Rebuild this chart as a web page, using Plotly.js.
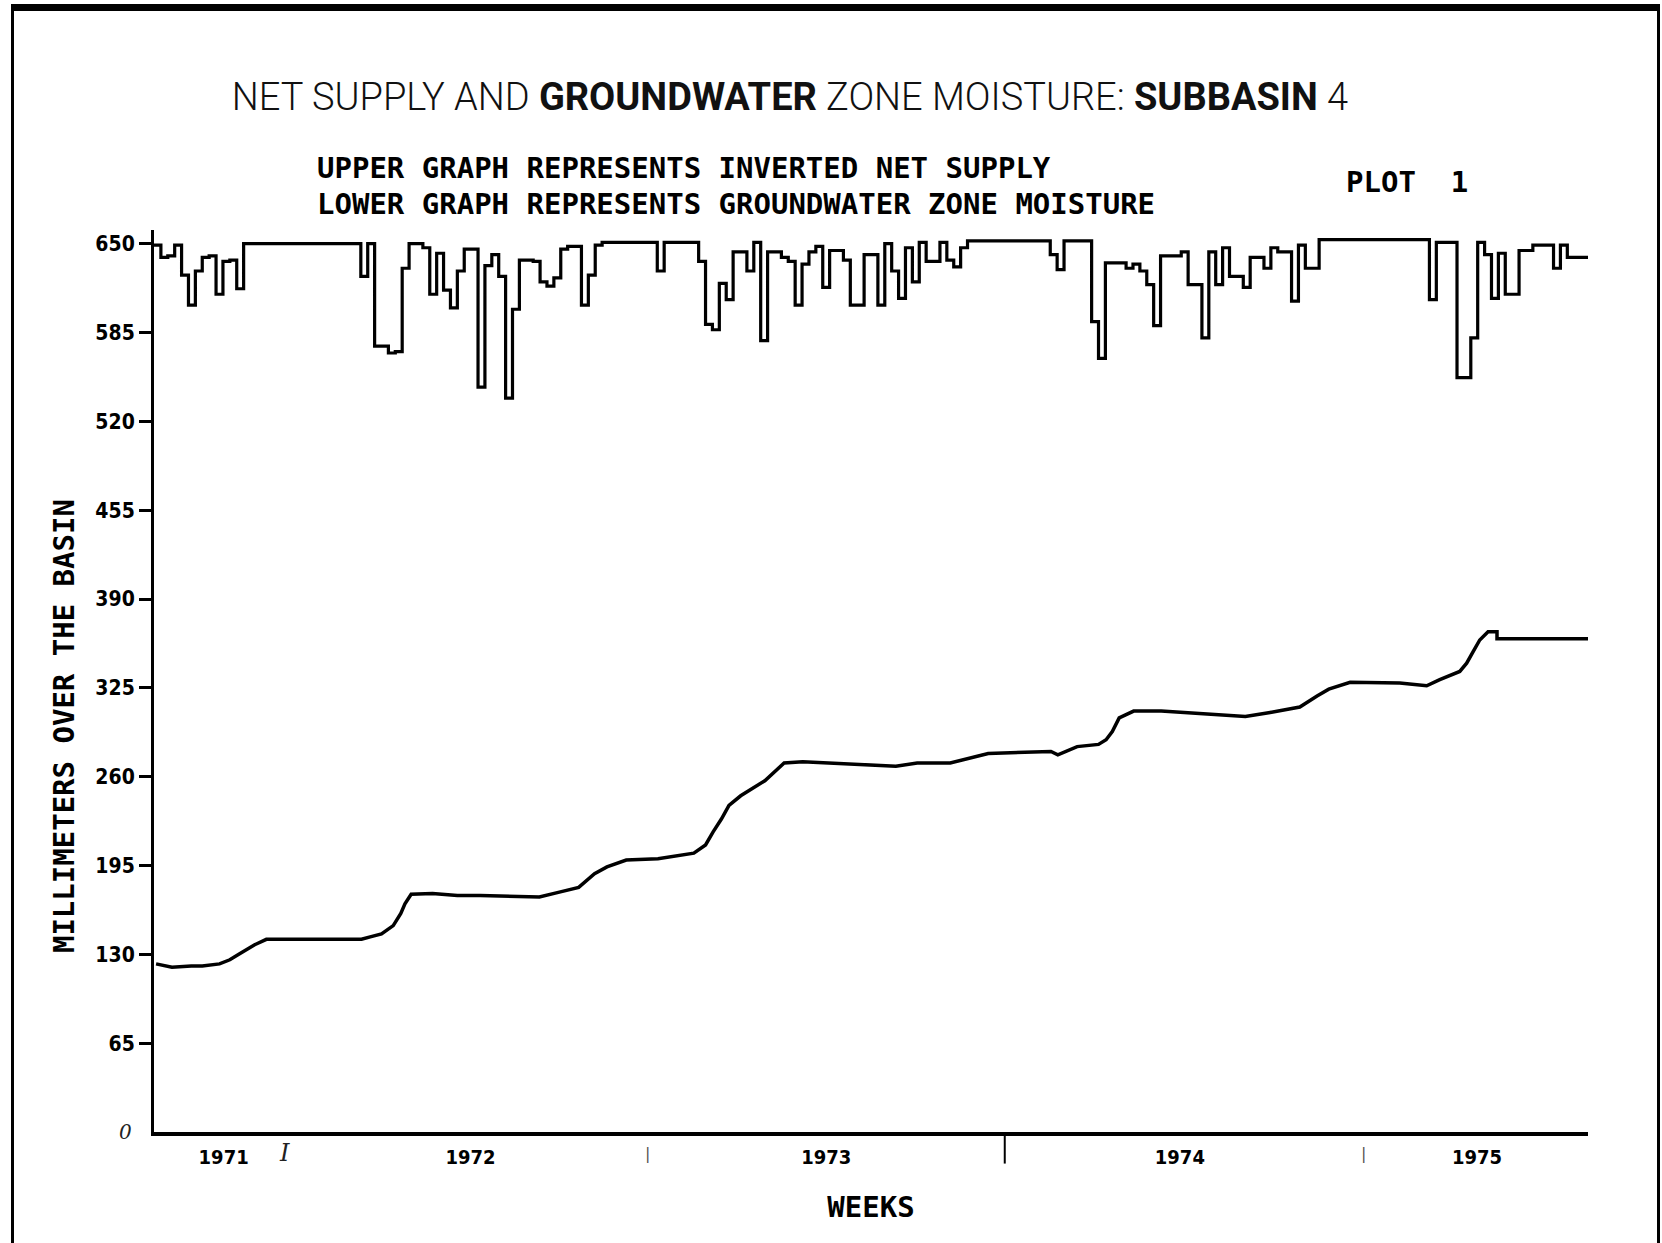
<!DOCTYPE html>
<html>
<head>
<meta charset="utf-8">
<script src="https://cdn.plot.ly/plotly-3.0.1.min.js"></script>
<style>
  html, body { margin: 0; padding: 0; background: #fff; }
  #wrap { position: relative; width: 1662px; height: 1243px; }
  #chart { position: absolute; left: 0; top: 0; width: 1662px; height: 1243px; }
  #frame { position: absolute; left: 11px; top: 4px; width: 1643px; height: 1233px;
           border-top: 7px solid #000; border-left: 3px solid #000; border-right: 3px solid #000;
           border-bottom: 2px solid #000; pointer-events: none; }
</style>
</head>
<body>
<div id="wrap">
  <div id="chart"></div>
  <div id="frame"></div>
</div>
<script>
// ---- DATA ----
// Inverted net supply, one value per week (weeks 0..207)
const netSupplyWeekly = [
  649, 640, 641, 649, 627, 605, 630, 640, 641, 613,
  637, 638, 617, 650, 650, 650, 650, 650, 650, 650,
  650, 650, 650, 650, 650, 650, 650, 650, 650, 650,
  626, 650, 575, 575, 570, 571, 632, 650, 650, 647,
  613, 643, 616, 603, 630, 646, 646, 545, 634, 642,
  626, 537, 602, 638, 638, 637, 622, 619, 625, 646,
  648, 648, 605, 627, 649, 651, 651, 651, 651, 651,
  651, 651, 651, 630, 651, 651, 651, 651, 651, 637,
  591, 587, 621, 609, 644, 644, 630, 651, 579, 644,
  644, 640, 637, 605, 635, 644, 648, 618, 645, 645,
  638, 605, 605, 642, 642, 605, 650, 630, 610, 647,
  622, 651, 637, 637, 651, 638, 633, 647, 652, 652,
  652, 652, 652, 652, 652, 652, 652, 652, 652, 652,
  642, 631, 652, 652, 652, 652, 593, 566, 636, 636,
  636, 632, 635, 630, 620, 590, 641, 641, 641, 644,
  620, 620, 581, 644, 620, 647, 626, 626, 618, 640,
  640, 632, 647, 644, 644, 608, 649, 632, 632, 653,
  653, 653, 653, 653, 653, 653, 653, 653, 653, 653,
  653, 653, 653, 653, 653, 609, 651, 651, 651, 552,
  552, 581, 651, 642, 610, 643, 613, 613, 645, 645,
  649, 649, 649, 632, 649, 640, 640, 640
];

// Groundwater zone moisture (week, mm)
const gwWeeks = [0.3, 2.6, 5.4, 7, 9.5, 11, 12.3, 13.5, 14.6, 16.3,
  30.1, 31.5, 33, 34.7, 35.8, 36.4, 37.3, 40.4, 44, 47.3,
  52, 55.9, 58.8, 61.6, 63.9, 65.7, 68.5, 73.1, 78.3, 80,
  81.1, 82.3, 83.4, 85.1, 88.6, 91.4, 94.1, 102.1, 107.6, 110.7,
  115.5, 121, 130.1, 131.1, 133.9, 137, 138.1, 139, 140, 142.1,
  146.1, 152.2, 158.3, 161.9, 166.2, 168.7, 170.4, 173.5, 180.7, 184.6,
  186.5, 189.4, 190.4, 191.4, 192.3, 193.5, 194.8, 194.8, 208];
const gwValues = [123, 120.5, 121.5, 121.5, 123, 126, 130, 134, 137, 141,
  141, 143, 145, 151, 160, 167, 174, 174.5, 173, 173,
  172.5, 172, 175.5, 179, 189, 194, 199, 200, 204, 210,
  219.6, 229, 239, 246, 257, 270, 271, 269, 267.6, 270,
  270, 277, 278.4, 276, 282, 283.6, 287, 293, 303, 308,
  308, 306, 304, 307, 311, 319, 324, 329, 328.5, 326.5,
  331, 337, 343, 352, 360, 366, 366, 361, 361];

const yTickVals = [65, 130, 195, 260, 325, 390, 455, 520, 585, 650];
const yTickText = ['65', '130', '195', '260', '325', '390', '455', '520', '585', '650'];
const yearTickWeeks = [10.1, 45.9, 97.5, 148.8, 191.9];
const yearTickText = ['1971', '1972', '1973', '1974', '1975'];
const yearMarkWeeks = [18.9, 71.6, 175.5];
const yearMarkGlyphs = ['I', '|', '|'];
const yearBoundaryWeek = [123.4];
const zeroLabel = '0';
const yTitleText = 'MILLIMETERS OVER THE BASIN';

// ---- BUILD ----
const lastWeek = netSupplyWeekly.length;
const nsX = netSupplyWeekly.map((_, i) => i).concat([lastWeek]);
const nsY = netSupplyWeekly.concat([netSupplyWeekly[netSupplyWeekly.length - 1]]);

const plotterFont = '"DejaVu Sans Condensed", "Liberation Sans Narrow", "DejaVu Sans", sans-serif';
const monoFont = '"DejaVu Sans Mono", "Liberation Mono", monospace';

const traces = [
  { x: nsX, y: nsY, type: 'scatter', mode: 'lines', line: { shape: 'hv', color: '#000', width: 3.2 },
    cliponaxis: false, hoverinfo: 'skip', showlegend: false },
  { x: gwWeeks, y: gwValues, type: 'scatter', mode: 'lines', line: { color: '#000', width: 3.5 },
    cliponaxis: false, hoverinfo: 'skip', showlegend: false }
];

const annotations = [
  { text: 'UPPER GRAPH REPRESENTS INVERTED NET SUPPLY', xref: 'paper', yref: 'paper', x: 0.112, y: 1.0687,
    xanchor: 'left', yanchor: 'middle', showarrow: false, font: { family: monoFont, size: 29, color: '#000', weight: 'bold' } },
  { text: 'LOWER GRAPH REPRESENTS GROUNDWATER ZONE MOISTURE', xref: 'paper', yref: 'paper', x: 0.112, y: 1.0288,
    xanchor: 'left', yanchor: 'middle', showarrow: false, font: { family: monoFont, size: 29, color: '#000', weight: 'bold' } },
  { text: 'PLOT  1', xref: 'paper', yref: 'paper', x: 0.8298, y: 1.0532,
    xanchor: 'left', yanchor: 'middle', showarrow: false, font: { family: monoFont, size: 29, color: '#000', weight: 'bold' } },
  { text: yTitleText, xref: 'paper', yref: 'paper', x: -0.0628, y: 0.45, textangle: -90,
    xanchor: 'center', yanchor: 'middle', showarrow: false, font: { family: monoFont, size: 29, color: '#000', weight: 'bold' } },
  { text: zeroLabel, xref: 'paper', yref: 'y', x: -0.014, y: 0, xanchor: 'right', yanchor: 'middle', showarrow: false,
    font: { family: '"DejaVu Serif", serif', size: 20, color: '#222', style: 'italic' } }
];
yearMarkWeeks.forEach((w, i) => {
  annotations.push({ text: yearMarkGlyphs[i], xref: 'x', yref: 'paper', x: w, y: -0.0233,
    xanchor: 'center', yanchor: 'middle', showarrow: false,
    font: i === 0 ? { family: '"DejaVu Serif", serif', size: 24, color: '#222', style: 'italic' }
                  : { family: '"DejaVu Sans", sans-serif', size: 16, color: '#555' } });
});

const shapes = yearBoundaryWeek.map(w => ({ type: 'line', xref: 'x', yref: 'paper', x0: w, x1: w, y0: 0, y1: -0.035,
  line: { color: '#000', width: 2 } }));

const layout = {
  width: 1662, height: 1243,
  margin: { l: 154, r: 74, t: 230, b: 111 },
  paper_bgcolor: '#fff', plot_bgcolor: '#fff',
  title: {
    text: 'NET SUPPLY AND <b>GROUNDWATER</b> ZONE MOISTURE: <b>SUBBASIN</b> 4',
    font: { family: 'Roboto, "Open Sans", sans-serif', size: 38, color: '#111', weight: 300 },
    xref: 'paper', x: 0.4435, xanchor: 'center', yref: 'container', y: 0.922, yanchor: 'middle'
  },
  xaxis: {
    range: [0, 208], showgrid: false, zeroline: false, showline: true, linecolor: '#000', linewidth: 4,
    ticks: '', tickvals: yearTickWeeks, ticktext: yearTickText,
    tickfont: { family: plotterFont, size: 20, color: '#000', weight: 'bold' }, ticklabelstandoff: 4,
    title: { text: 'WEEKS', font: { family: monoFont, size: 29, color: '#000', weight: 'bold' }, standoff: 30 }
  },
  yaxis: {
    range: [0, 660], showgrid: false, zeroline: false, showline: true, linecolor: '#000', linewidth: 3,
    ticks: 'outside', ticklen: 12, tickwidth: 3, tickcolor: '#000',
    tickvals: yTickVals, ticktext: yTickText,
    tickfont: { family: plotterFont, size: 21, color: '#000', weight: 'bold' }
  },
  annotations: annotations,
  shapes: shapes,
  showlegend: false
};

Plotly.newPlot('chart', traces, layout, { staticPlot: true, displayModeBar: false });
</script>
</body>
</html>
